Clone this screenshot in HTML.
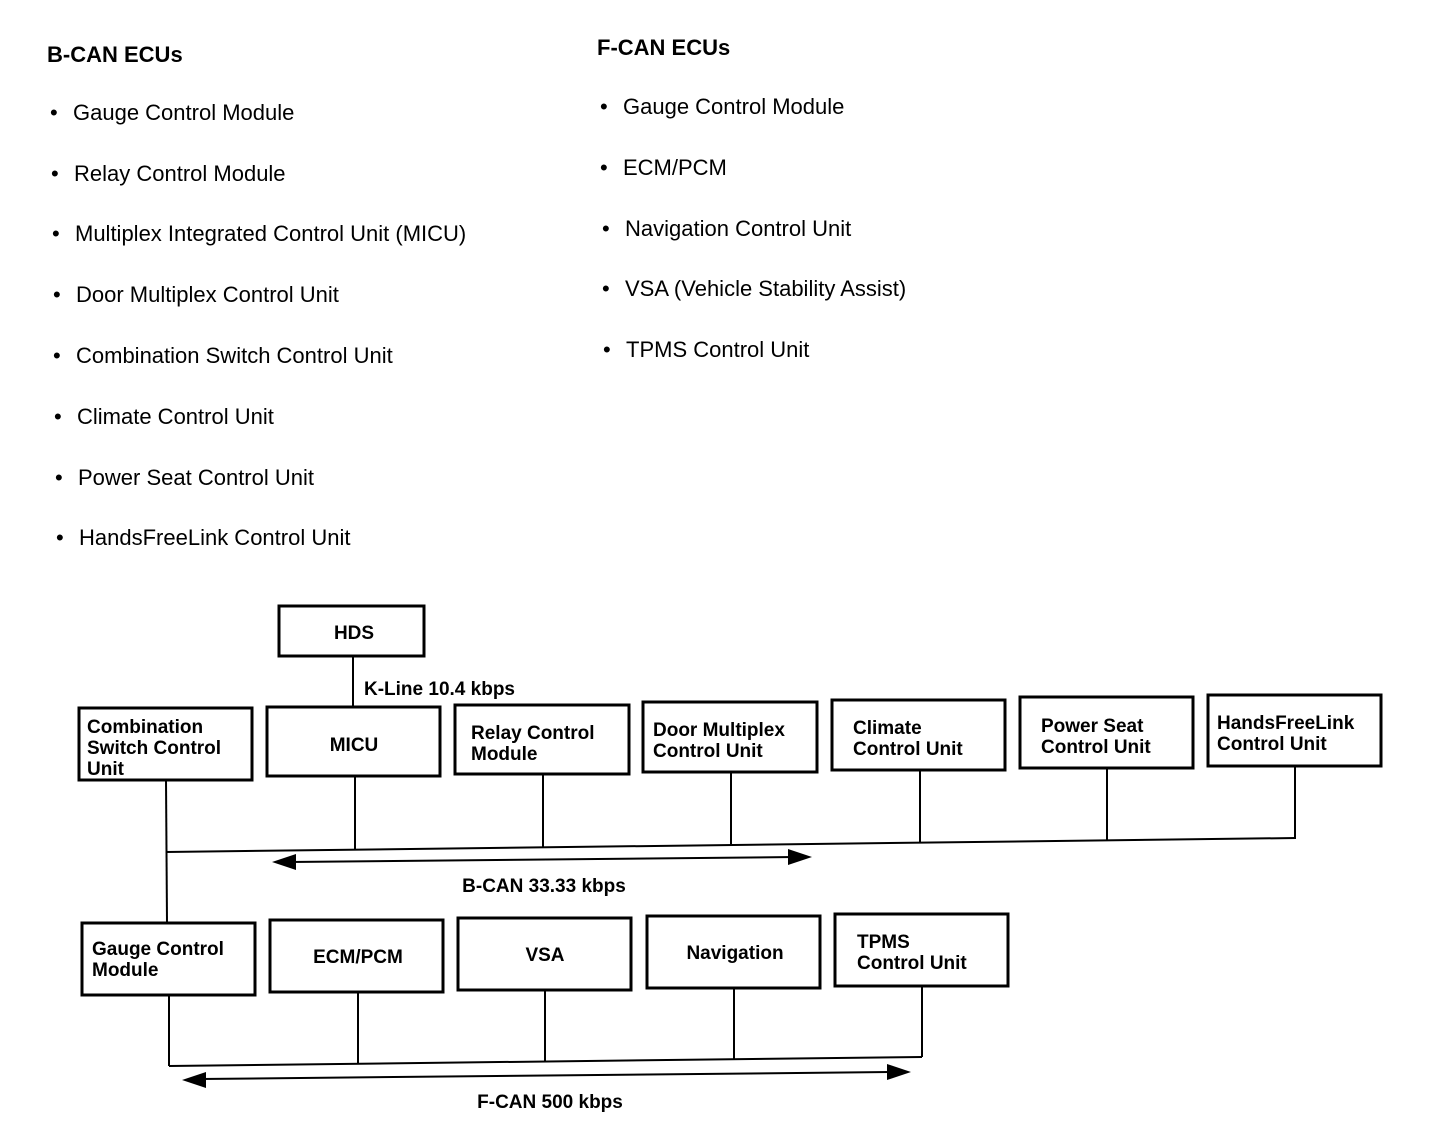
<!DOCTYPE html>
<html><head><meta charset="utf-8"><style>
html,body{margin:0;padding:0;background:#fff;}
svg{display:block;font-family:"Liberation Sans",Arial,sans-serif;}
.h{font-weight:bold;font-size:22px;}
.i{font-size:22px;}
.b{font-weight:bold;font-size:19px;}
rect{fill:#fff;stroke:#000;stroke-width:3;}
line,polyline{stroke:#000;stroke-width:2;fill:none;}
</style></head><body>
<svg width="1440" height="1140" viewBox="0 0 1440 1140">
<text class="h" x="47" y="62">B-CAN ECUs</text>
<g class="i">
<text x="50" y="120">•</text><text x="73" y="120">Gauge Control Module</text>
<text x="51" y="181">•</text><text x="74" y="181">Relay Control Module</text>
<text x="52" y="241">•</text><text x="75" y="241">Multiplex Integrated Control Unit (MICU)</text>
<text x="53" y="302">•</text><text x="76" y="302">Door Multiplex Control Unit</text>
<text x="53" y="363">•</text><text x="76" y="363">Combination Switch Control Unit</text>
<text x="54" y="424">•</text><text x="77" y="424">Climate Control Unit</text>
<text x="55" y="485">•</text><text x="78" y="485">Power Seat Control Unit</text>
<text x="56" y="545">•</text><text x="79" y="545">HandsFreeLink Control Unit</text>
</g>
<text class="h" x="597" y="55">F-CAN ECUs</text>
<g class="i">
<text x="600" y="114">•</text><text x="623" y="114">Gauge Control Module</text>
<text x="600" y="175">•</text><text x="623" y="175">ECM/PCM</text>
<text x="602" y="236">•</text><text x="625" y="236">Navigation Control Unit</text>
<text x="602" y="296">•</text><text x="625" y="296">VSA (Vehicle Stability Assist)</text>
<text x="603" y="357">•</text><text x="626" y="357">TPMS Control Unit</text>
</g>

<rect x="279" y="606" width="145" height="50"/>
<text class="b" x="354" y="639" text-anchor="middle">HDS</text>
<line x1="353" y1="656" x2="353" y2="706"/>
<text class="b" x="364" y="695">K-Line 10.4 kbps</text>

<rect x="79" y="708" width="173" height="72"/>
<text class="b" x="87" y="733">Combination</text><text class="b" x="87" y="754">Switch Control</text><text class="b" x="87" y="775">Unit</text>
<rect x="267" y="707" width="173" height="69"/>
<text class="b" x="354" y="751" text-anchor="middle">MICU</text>
<rect x="455" y="705" width="174" height="69"/>
<text class="b" x="471" y="739">Relay Control</text><text class="b" x="471" y="760">Module</text>
<rect x="643" y="702" width="174" height="70"/>
<text class="b" x="653" y="736">Door Multiplex</text><text class="b" x="653" y="757">Control Unit</text>
<rect x="832" y="700" width="173" height="70"/>
<text class="b" x="853" y="734">Climate</text><text class="b" x="853" y="755">Control Unit</text>
<rect x="1020" y="697" width="173" height="71"/>
<text class="b" x="1041" y="732">Power Seat</text><text class="b" x="1041" y="753">Control Unit</text>
<rect x="1208" y="695" width="173" height="71"/>
<text class="b" x="1217" y="729">HandsFreeLink</text><text class="b" x="1217" y="750">Control Unit</text>

<line x1="166" y1="780" x2="167" y2="922"/>
<line x1="355" y1="776" x2="355" y2="849"/>
<line x1="543" y1="774" x2="543" y2="847"/>
<line x1="731" y1="772" x2="731" y2="845"/>
<line x1="920" y1="770" x2="920" y2="842"/>
<line x1="1107" y1="768" x2="1107" y2="840"/>
<line x1="1295" y1="766" x2="1295" y2="838"/>
<line x1="166" y1="852" x2="1296" y2="838"/>
<line x1="290" y1="862" x2="795" y2="857" stroke-width="3"/>
<polygon points="272,862 296,854 296,870"/>
<polygon points="812,857 788,849 788,865"/>
<text class="b" x="544" y="892" text-anchor="middle">B-CAN 33.33 kbps</text>

<rect x="82" y="923" width="173" height="72"/>
<text class="b" x="92" y="955">Gauge Control</text><text class="b" x="92" y="976">Module</text>
<rect x="270" y="920" width="173" height="72"/>
<text class="b" x="358" y="963" text-anchor="middle">ECM/PCM</text>
<rect x="458" y="918" width="173" height="72"/>
<text class="b" x="545" y="961" text-anchor="middle">VSA</text>
<rect x="647" y="916" width="173" height="72"/>
<text class="b" x="735" y="959" text-anchor="middle">Navigation</text>
<rect x="835" y="914" width="173" height="72"/>
<text class="b" x="857" y="948">TPMS</text><text class="b" x="857" y="969">Control Unit</text>

<line x1="169" y1="995" x2="169" y2="1066"/>
<line x1="358" y1="992" x2="358" y2="1064"/>
<line x1="545" y1="990" x2="545" y2="1062"/>
<line x1="734" y1="988" x2="734" y2="1060"/>
<line x1="922" y1="986" x2="922" y2="1057"/>
<line x1="169" y1="1066" x2="922" y2="1057"/>
<line x1="200" y1="1079" x2="895" y2="1072" stroke-width="3"/>
<polygon points="182,1080 206,1072 206,1088"/>
<polygon points="911,1072 887,1064 887,1080"/>
<text class="b" x="550" y="1108" text-anchor="middle">F-CAN 500 kbps</text>
</svg>
</body></html>
